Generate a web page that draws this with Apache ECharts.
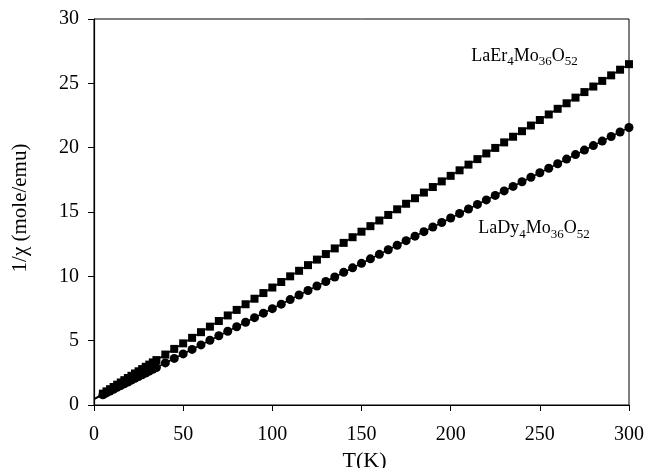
<!DOCTYPE html>
<html>
<head>
<meta charset="utf-8">
<script src="https://cdn.jsdelivr.net/npm/echarts@6/dist/echarts.min.js"></script>
<style>
  html, body { margin: 0; padding: 0; background: #fff; }
  #chart { width: 647px; height: 468px; }
</style>
</head>
<body>
<div id="chart"></div>
<script>
// temperatures (K)
const temps = [5, 7, 9, 11, 13, 15, 17, 19, 21, 23, 25, 27, 29, 31, 33,
  35, 40, 45, 50, 55, 60, 65, 70, 75, 80, 85, 90, 95, 100, 105, 110, 115, 120,
  125, 130, 135, 140, 145, 150, 155, 160, 165, 170, 175, 180, 185, 190, 195, 200,
  205, 210, 215, 220, 225, 230, 235, 240, 245, 250, 255, 260, 265, 270, 275, 280,
  285, 290, 295, 300]

// 1/chi, LaEr4Mo36O52 (squares)
const erValues = [0.88, 1.06, 1.23, 1.40, 1.58, 1.75, 1.93, 2.10, 2.27, 2.45, 2.62, 2.79, 2.97, 3.14, 3.31,
  3.49, 3.92, 4.36, 4.79, 5.22, 5.66, 6.09, 6.53, 6.96, 7.39, 7.83, 8.26, 8.70, 9.13, 9.56, 10.00, 10.43, 10.87,
  11.30, 11.73, 12.17, 12.60, 13.04, 13.47, 13.90, 14.34, 14.77, 15.21, 15.64, 16.07, 16.51, 16.94, 17.38, 17.81,
  18.24, 18.68, 19.11, 19.55, 19.98, 20.41, 20.85, 21.28, 21.72, 22.15, 22.58, 23.02, 23.45, 23.89, 24.32, 24.75,
  25.19, 25.62, 26.06, 26.49]

// 1/chi, LaDy4Mo36O52 (circles)
const dyValues = [0.80, 0.94, 1.08, 1.22, 1.37, 1.51, 1.65, 1.79, 1.93, 2.07, 2.21, 2.35, 2.49, 2.63, 2.77,
  2.91, 3.27, 3.62, 3.97, 4.32, 4.67, 5.03, 5.38, 5.73, 6.08, 6.43, 6.79, 7.14, 7.49, 7.84, 8.19, 8.55, 8.90,
  9.25, 9.60, 9.95, 10.31, 10.66, 11.01, 11.36, 11.71, 12.07, 12.42, 12.77, 13.12, 13.47, 13.83, 14.18, 14.53,
  14.88, 15.23, 15.59, 15.94, 16.29, 16.64, 16.99, 17.35, 17.70, 18.05, 18.40, 18.75, 19.11, 19.46, 19.81, 20.16,
  20.51, 20.87, 21.22, 21.57]

// linear fits (end points)
const fitT = [0, 300]
const erFit = [0.45, 26.49]
const dyFit = [0.45, 21.57]

const font = 'Liberation Serif'

const chart = echarts.init(document.getElementById('chart'))

const pairs = (xs, ys) => xs.map((x, i) => [x, ys[i]])

const options = {
  animation: false,
  grid: {
    left: 94,
    right: 18,
    top: 19,
    bottom: 63,
    outerBoundsMode: 'none',
    containLabel: false,
    show: true,
    borderColor: '#000',
    borderWidth: 1
  },
  xAxis: {
    type: 'value',
    min: 0,
    max: 300,
    interval: 50,
    name: 'T(K)',
    nameLocation: 'middle',
    nameGap: 40,
    nameTextStyle: { fontFamily: font, fontSize: 22, color: '#000', padding: [0, 0, 0, 6] },
    axisLine: { lineStyle: { color: '#000', width: 1.2 } },
    axisTick: { inside: false, length: 6, lineStyle: { color: '#000' } },
    axisLabel: { fontFamily: font, fontSize: 20, color: '#000', margin: 20 },
    splitLine: { show: false }
  },
  yAxis: {
    type: 'value',
    min: 0,
    max: 30,
    interval: 5,
    name: '1/χ (mole/emu)',
    nameLocation: 'middle',
    nameGap: 63,
    nameTextStyle: { fontFamily: font, fontSize: 21, color: '#000', padding: [0, 0, 0, 8] },
    axisLine: { lineStyle: { color: '#000', width: 1.2 } },
    axisTick: { inside: false, length: 6, lineStyle: { color: '#000' } },
    axisLabel: { fontFamily: font, fontSize: 20, color: '#000', margin: 15 },
    splitLine: { show: false }
  },
  series: [
    {
      name: 'LaEr4Mo36O52 fit',
      type: 'line',
      data: pairs(fitT, erFit),
      symbol: 'none',
      lineStyle: { color: '#000', width: 1.5 },
      z: 2
    },
    {
      name: 'LaDy4Mo36O52 fit',
      type: 'line',
      data: pairs(fitT, dyFit),
      symbol: 'none',
      lineStyle: { color: '#000', width: 1.5 },
      z: 2
    },
    {
      name: 'LaEr4Mo36O52',
      type: 'scatter',
      data: pairs(temps, erValues),
      symbol: 'rect',
      symbolSize: 8,
      itemStyle: { color: '#000', opacity: 1 },
      z: 3
    },
    {
      name: 'LaDy4Mo36O52',
      type: 'scatter',
      data: pairs(temps, dyValues),
      symbol: 'circle',
      symbolSize: 9,
      itemStyle: { color: '#000', opacity: 1 },
      z: 3
    }
  ]
}
chart.setOption(options)

// compound labels with subscripts, placed in data coordinates
const rich = {
  m: { fontFamily: font, fontSize: 18, color: '#000' },
  s: { fontFamily: font, fontSize: 13, color: '#000', padding: [11, 0, 0, 0] }
}
const erPos = chart.convertToPixel({ gridIndex: 0 }, [211.5, 27.1])
const dyPos = chart.convertToPixel({ gridIndex: 0 }, [215.5, 13.7])
chart.setOption({
  graphic: [
    {
      type: 'text',
      x: erPos[0],
      y: erPos[1],
      style: {
        text: '{m|LaEr}{s|4}{m|Mo}{s|36}{m|O}{s|52}',
        rich: rich,
        align: 'left',
        verticalAlign: 'middle'
      }
    },
    {
      type: 'text',
      x: dyPos[0],
      y: dyPos[1],
      style: {
        text: '{m|LaDy}{s|4}{m|Mo}{s|36}{m|O}{s|52}',
        rich: rich,
        align: 'left',
        verticalAlign: 'middle'
      }
    }
  ]
})
</script>
</body>
</html>
